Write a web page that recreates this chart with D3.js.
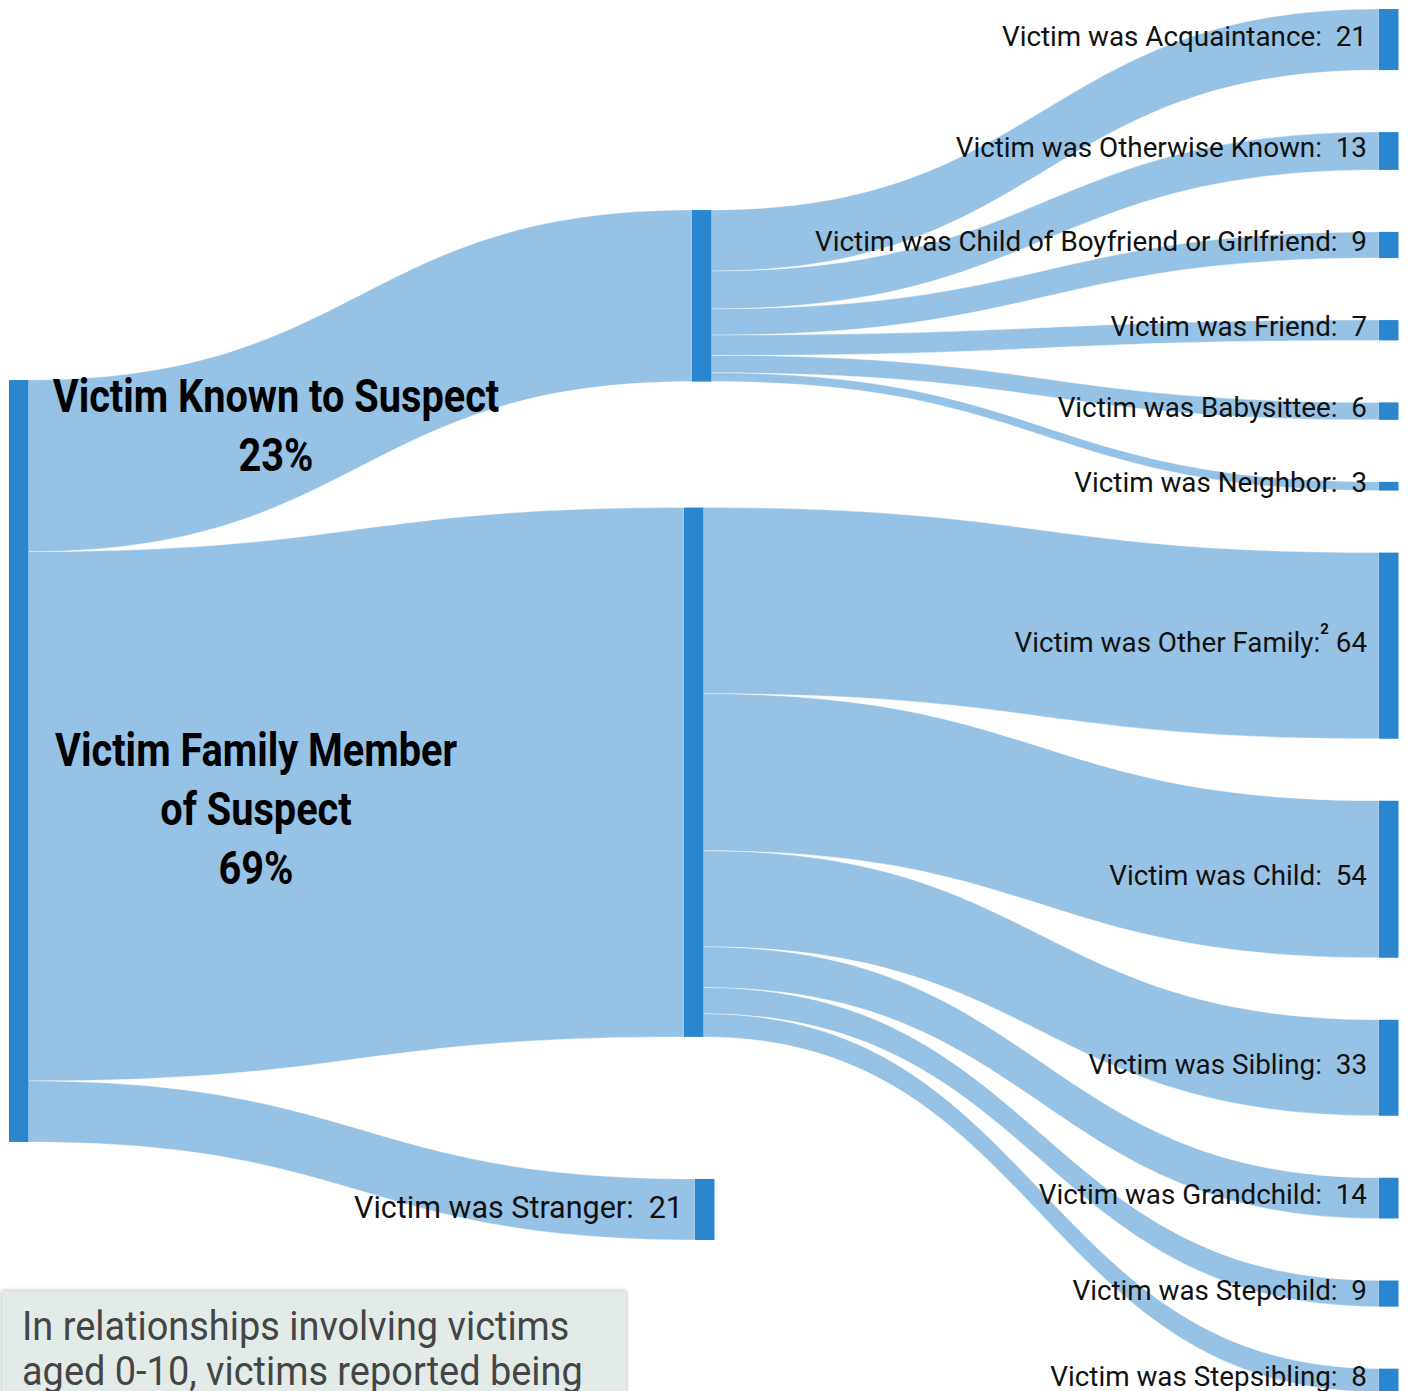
<!DOCTYPE html>
<html>
<head>
<meta charset="utf-8">
<script src="https://cdn.jsdelivr.net/npm/d3@7"></script>
<style>
  html, body { margin: 0; padding: 0; background: #fff; }
  svg { display: block; }
  text { white-space: pre; }
</style>
</head>
<body>
<svg id="chart" width="1408" height="1391"></svg>
<script>
// ---- Data -------------------------------------------------------------
const groupNames = ["Victim Known to Suspect", "Victim Family Member of Suspect", "Victim was Stranger"];
const groupLabelLines = [["Victim Known to Suspect"], ["Victim Family Member", "of Suspect"], []];

const knownCategories = ["Acquaintance", "Otherwise Known", "Child of Boyfriend or Girlfriend",
                         "Friend", "Babysittee", "Neighbor"];
const knownValues = [21, 13, 9, 7, 6, 3];

const familyCategories = ["Other Family", "Child", "Sibling", "Grandchild", "Stepchild", "Stepsibling"];
const familyValues = [64, 54, 33, 14, 9, 8];

const strangerValue = 21;

// footnote markers attached to category labels
const footnotes = { "Other Family": "2" };

const noteLines = ["In relationships involving victims", "aged 0-10, victims reported being"];

// ---- Styles -----------------------------------------------------------
const LINK_COLOR = "#95c2e5";
const NODE_COLOR = "#2a86cf";
const FONT = "Roboto, 'Noto Sans', sans-serif";

// ---- Build graph ------------------------------------------------------
const knownTotal = d3.sum(knownValues);
const familyTotal = d3.sum(familyValues);
const total = knownTotal + familyTotal + strangerValue;

const root = { name: "All", value: total, col: 0 };
const mids = [
  { name: groupNames[0], value: knownTotal, col: 1 },
  { name: groupNames[1], value: familyTotal, col: 1 },
  { name: groupNames[2], value: strangerValue, col: 1 }
];
const leaves = [
  ...knownCategories.map((c, i) => ({ name: c, value: knownValues[i], col: 2, parent: mids[0] })),
  ...familyCategories.map((c, i) => ({ name: c, value: familyValues[i], col: 2, parent: mids[1] }))
];

const links = [
  ...mids.map(m => ({ source: root, target: m, value: m.value })),
  ...leaves.map(l => ({ source: l.parent, target: l, value: l.value }))
];

// ---- Layout -----------------------------------------------------------
const h = d3.scaleLinear().domain([0, total]).range([0, 762]);
const NODE_W = 19.5;

function stack(nodes, top, gaps) {
  let y = top;
  nodes.forEach((n, i) => {
    n.y0 = y;
    n.y1 = y + h(n.value);
    y = n.y1 + (i < gaps.length ? gaps[i] : gaps[gaps.length - 1]);
  });
}

root.x0 = 9;
stack([root], 380, [0]);
const midX = [692, 684, 695];
mids.forEach((m, i) => { m.x0 = midX[i]; });
stack(mids, 210, [126, 142]);
leaves.forEach(l => { l.x0 = 1379; });
stack(leaves, 9, [62]);

[root, ...mids, ...leaves].forEach(n => { n.x1 = n.x0 + NODE_W; });

// stack the link bands at each end
const outY = new Map(), inY = new Map();
links.forEach(lk => {
  const s = outY.has(lk.source) ? outY.get(lk.source) : lk.source.y0;
  const t = inY.has(lk.target) ? inY.get(lk.target) : lk.target.y0;
  lk.sy0 = s; lk.sy1 = s + h(lk.value);
  lk.ty0 = t; lk.ty1 = t + h(lk.value);
  outY.set(lk.source, lk.sy1);
  inY.set(lk.target, lk.ty1);
});

function bandPath(lk) {
  const sx = lk.source.x1, tx = lk.target.x0, mx = (sx + tx) / 2;
  const p = d3.path();
  p.moveTo(sx, lk.sy0);
  p.bezierCurveTo(mx, lk.sy0, mx, lk.ty0, tx, lk.ty0);
  p.lineTo(tx, lk.ty1);
  p.bezierCurveTo(mx, lk.ty1, mx, lk.sy1, sx, lk.sy1);
  p.closePath();
  return p.toString();
}

// ---- Draw -------------------------------------------------------------
const svg = d3.select("#chart");

const defs = svg.append("defs");
const shadow = defs.append("filter").attr("id", "boxShadow")
  .attr("x", "-5%").attr("y", "-20%").attr("width", "110%").attr("height", "140%");
shadow.append("feDropShadow").attr("dx", 0).attr("dy", 0)
  .attr("stdDeviation", 2.2).attr("flood-color", "#000").attr("flood-opacity", 0.35);

svg.append("g")
  .selectAll("path")
  .data(links)
  .join("path")
  .attr("d", bandPath)
  .attr("fill", LINK_COLOR)
  .attr("stroke", "#fff")
  .attr("stroke-opacity", 0.45)
  .attr("stroke-width", 0.8);

svg.append("g")
  .selectAll("rect")
  .data([root, ...mids, ...leaves])
  .join("rect")
  .attr("x", d => d.x0)
  .attr("y", d => d.y0)
  .attr("width", d => d.x1 - d.x0)
  .attr("height", d => d.y1 - d.y0)
  .attr("fill", NODE_COLOR);

// leaf labels (right column) and stranger label
const pct = v => Math.round(v / total * 100) + "%";
const labelG = svg.append("g")
  .attr("font-family", FONT)
  .attr("fill", "#111");

function nodeLabel(node, text, fn, size, dy) {
  const t = labelG.append("text")
    .attr("x", node.x0 - 12)
    .attr("y", (node.y0 + node.y1) / 2 + dy)
    .attr("font-size", size)
    .attr("dominant-baseline", "central")
    .attr("text-anchor", "end");
  if (fn) {
    t.append("tspan").text(text + ":");
    t.append("tspan").attr("font-size", 15).attr("font-weight", 700)
      .attr("dy", -13).text(fn);
    t.append("tspan").attr("dy", 13).text(" " + node.value);
  } else {
    t.text(text + ":  " + node.value);
  }
}

leaves.forEach(l => nodeLabel(l, "Victim was " + l.name, footnotes[l.name], 27.8, -3.5));
nodeLabel(mids[2], mids[2].name, null, 30.5, -1.5);

// group headline labels
const headG = svg.append("g")
  .attr("font-family", FONT)
  .attr("font-weight", 700)
  .attr("font-size", 47)
  .attr("fill", "#000")
  .attr("text-anchor", "middle");

const headPos = [{ cx: 276, top: 412 }, { cx: 256, top: 766 }];
[0, 1].forEach(i => {
  const lines = [...groupLabelLines[i], pct(mids[i].value)];
  lines.forEach((line, j) => {
    headG.append("text")
      .attr("transform", `translate(${headPos[i].cx},${headPos[i].top + j * 59}) scale(0.845,1)`)
      .text(line);
  });
});

// note box at the bottom left
const noteG = svg.append("g");
noteG.append("rect")
  .attr("x", 2).attr("y", 1291)
  .attr("width", 624).attr("height", 130)
  .attr("fill", "#e3ebe8")
  .attr("filter", "url(#boxShadow)");
noteLines.forEach((line, j) => {
  noteG.append("text")
    .attr("transform", `translate(22,${1340 + j * 45}) scale(0.925,1)`)
    .attr("font-family", FONT)
    .attr("font-size", 41)
    .attr("fill", "#454545")
    .text(line);
});
</script>
</body>
</html>
